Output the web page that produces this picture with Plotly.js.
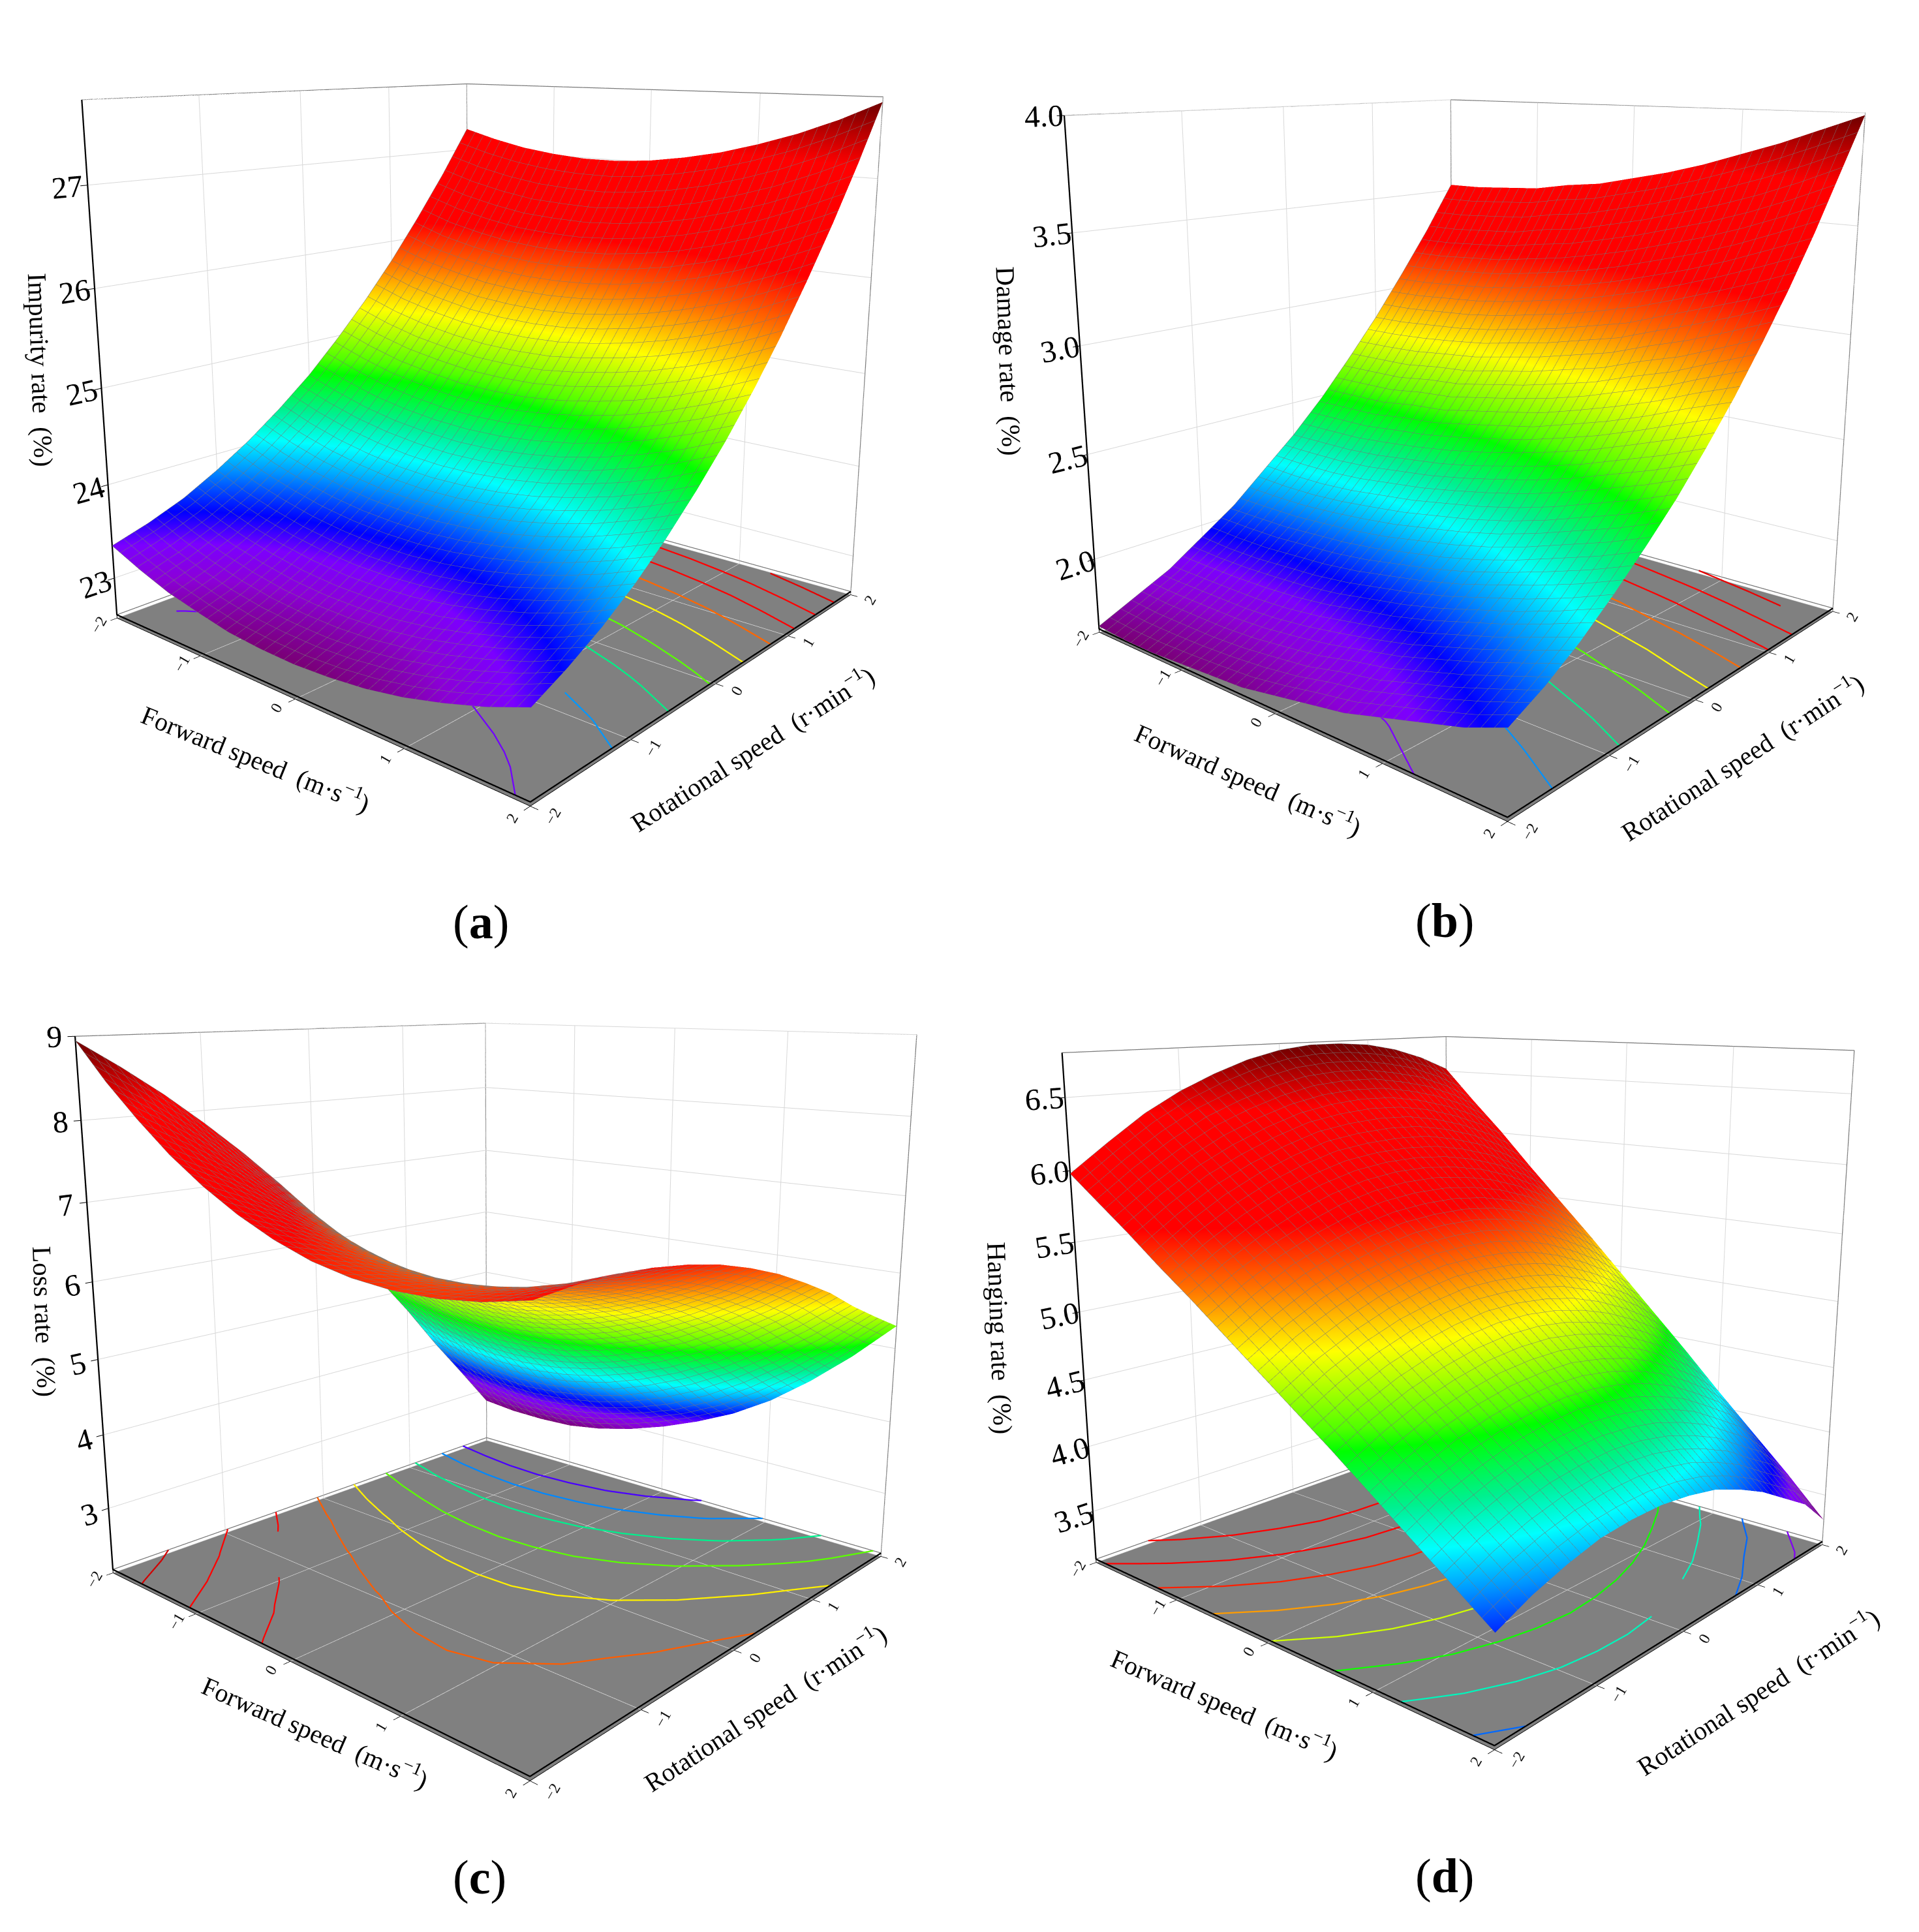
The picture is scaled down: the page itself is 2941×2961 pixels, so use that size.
<!DOCTYPE html>
<html><head><meta charset="utf-8">
<script src="https://cdn.plot.ly/plotly-3.0.1.min.js"></script>
<style>html,body{margin:0;padding:0;background:#fff;width:2941px;height:2961px;overflow:hidden;position:relative}
.p{position:absolute}</style></head><body>
<script>
const forwardSpeed=[-2,-1.667,-1.333,-1,-.667,-.333,0,.333,.667,1,1.333,1.667,2];
const rotationalSpeed=[-2,-1.667,-1.333,-1,-.667,-.333,0,.333,.667,1,1.333,1.667,2];
const impurityRate=[
[23.35,23.21,23.09,23.01,22.94,22.91,22.90,22.92,22.96,23.03,23.13,23.25,23.40],
[23.47,23.33,23.22,23.13,23.07,23.04,23.03,23.05,23.10,23.18,23.28,23.40,23.56],
[23.62,23.49,23.38,23.30,23.24,23.21,23.21,23.23,23.28,23.36,23.46,23.59,23.75],
[23.82,23.68,23.58,23.50,23.45,23.42,23.42,23.45,23.50,23.58,23.69,23.82,23.98],
[24.05,23.92,23.82,23.74,23.69,23.67,23.67,23.70,23.76,23.84,23.95,24.09,24.25],
[24.32,24.19,24.09,24.02,23.97,23.95,23.96,23.99,24.05,24.14,24.25,24.39,24.56],
[24.62,24.50,24.40,24.33,24.29,24.27,24.28,24.32,24.38,24.47,24.59,24.73,24.90],
[24.97,24.85,24.75,24.69,24.64,24.63,24.64,24.68,24.75,24.84,24.96,25.11,25.28],
[25.35,25.23,25.14,25.08,25.04,25.03,25.04,25.09,25.16,25.25,25.37,25.52,25.70],
[25.77,25.65,25.57,25.50,25.47,25.46,25.48,25.53,25.60,25.70,25.82,25.98,26.16],
[26.23,26.11,26.03,25.97,25.94,25.94,25.96,26.01,26.08,26.18,26.31,26.47,26.65],
[26.72,26.61,26.53,26.47,26.45,26.44,26.47,26.52,26.60,26.71,26.84,27.00,27.18],
[27.25,27.15,27.07,27.02,26.99,26.99,27.02,27.08,27.16,27.27,27.40,27.56,27.75]];
const damageRate=[
[1.67,1.66,1.66,1.67,1.68,1.69,1.72,1.75,1.78,1.83,1.88,1.93,2.00],
[1.75,1.74,1.74,1.74,1.75,1.77,1.79,1.83,1.86,1.91,1.96,2.02,2.08],
[1.83,1.83,1.83,1.83,1.84,1.86,1.89,1.92,1.96,2.01,2.06,2.12,2.18],
[1.94,1.93,1.93,1.94,1.95,1.97,2.00,2.03,2.07,2.12,2.17,2.23,2.30],
[2.05,2.05,2.05,2.06,2.07,2.09,2.12,2.15,2.19,2.24,2.30,2.36,2.43],
[2.19,2.18,2.18,2.19,2.21,2.23,2.26,2.29,2.33,2.38,2.44,2.50,2.57],
[2.33,2.33,2.33,2.34,2.36,2.38,2.41,2.45,2.49,2.54,2.60,2.66,2.73],
[2.49,2.49,2.49,2.51,2.52,2.55,2.58,2.61,2.66,2.71,2.77,2.84,2.90],
[2.67,2.67,2.67,2.69,2.70,2.73,2.76,2.80,2.84,2.90,2.95,3.02,3.09],
[2.86,2.86,2.87,2.88,2.90,2.93,2.96,3.00,3.04,3.10,3.16,3.22,3.29],
[3.07,3.07,3.08,3.09,3.11,3.14,3.17,3.21,3.26,3.31,3.37,3.44,3.51],
[3.29,3.29,3.30,3.31,3.34,3.36,3.40,3.44,3.49,3.54,3.60,3.67,3.75],
[3.53,3.53,3.54,3.55,3.58,3.60,3.64,3.68,3.73,3.79,3.85,3.92,3.99]];
const lossRate=[
[8.95,8.49,8.09,7.73,7.43,7.18,6.98,6.83,6.74,6.70,6.71,6.77,6.88],
[8.61,8.18,7.81,7.48,7.21,6.99,6.83,6.71,6.65,6.64,6.68,6.77,6.92],
[8.24,7.84,7.50,7.20,6.96,6.78,6.64,6.56,6.53,6.55,6.62,6.75,6.93],
[7.83,7.46,7.15,6.89,6.68,6.53,6.42,6.37,6.37,6.43,6.53,6.69,6.90],
[7.39,7.05,6.77,6.54,6.37,6.24,6.17,6.15,6.19,6.27,6.41,6.60,6.84],
[6.91,6.61,6.36,6.16,6.02,5.93,5.89,5.90,5.97,6.08,6.25,6.47,6.75],
[6.40,6.13,5.92,5.75,5.64,5.58,5.57,5.61,5.71,5.86,6.06,6.31,6.62],
[5.86,5.62,5.44,5.30,5.22,5.19,5.22,5.29,5.42,5.60,5.84,6.12,6.46],
[5.28,5.08,4.93,4.82,4.78,4.78,4.83,4.94,5.10,5.31,5.58,5.90,6.26],
[4.68,4.50,4.38,4.31,4.29,4.33,4.42,4.56,4.75,4.99,5.29,5.64,6.04],
[4.03,3.89,3.80,3.76,3.78,3.85,3.96,4.14,4.36,4.63,4.96,5.34,5.77],
[3.42,3.32,3.25,3.24,3.29,3.38,3.52,3.70,3.95,4.27,4.63,5.05,5.53],
[2.80,2.75,2.74,2.76,2.84,2.97,3.14,3.35,3.60,3.92,4.32,4.78,5.30]];
const hangingRate=[
[5.98,5.81,5.64,5.46,5.29,5.11,4.93,4.75,4.57,4.38,4.19,4.00,3.81],
[6.17,6.00,5.82,5.64,5.46,5.27,5.09,4.90,4.71,4.51,4.32,4.12,3.92],
[6.35,6.16,5.98,5.79,5.60,5.41,5.21,5.02,4.82,4.62,4.41,4.21,4.00],
[6.49,6.30,6.10,5.91,5.71,5.51,5.31,5.11,4.90,4.69,4.48,4.27,4.06],
[6.60,6.40,6.20,6.00,5.80,5.59,5.38,5.17,4.96,4.74,4.52,4.30,4.08],
[6.69,6.48,6.28,6.07,5.86,5.64,5.43,5.21,4.99,4.76,4.54,4.31,4.08],
[6.75,6.54,6.32,6.10,5.89,5.66,5.44,5.21,4.99,4.76,4.52,4.29,4.05],
[6.78,6.56,6.34,6.11,5.89,5.66,5.43,5.19,4.96,4.72,4.48,4.24,4.00],
[6.78,6.56,6.33,6.10,5.86,5.63,5.39,5.15,4.90,4.66,4.41,4.16,3.91],
[6.76,6.52,6.29,6.05,5.81,5.57,5.32,5.07,4.82,4.57,4.32,4.06,3.80],
[6.71,6.47,6.22,5.98,5.73,5.48,5.22,4.97,4.71,4.45,4.19,3.92,3.66],
[6.63,6.38,6.13,5.87,5.62,5.36,5.10,4.84,4.58,4.31,4.05,3.79,3.52],
[6.52,6.26,6.01,5.74,5.48,5.22,4.95,4.68,4.41,4.13,3.86,3.59,3.30]];
const rainbow=[[0,'#7a0078'],[.05,'#8b00d8'],[.09,'#7b00ff'],[.13,'#0000ff'],[.19,'#0090ff'],[.24,'#00ffff'],[.29,'#00f090'],[.36,'#00ff00'],[.39,'#50ff00'],[.49,'#ffff00'],[.59,'#ff7000'],[.68,'#ff0000'],[.88,'#ff0000'],[.92,'#d00000'],[1,'#700000']];
const SIZE=1750;
const panels=[
 {z:impurityRate,zr:[22.56,27.8],tk:[23,24,25,26,27],fmt:'d',lv:[23.35,23.84,24.33,24.82,25.31,25.8,26.29,26.78,27.27],c:[753,557],eye:[1.603,-1.877,.592],asp:.96,ztitle:'Impurity rate\u00a0\u00a0(%)',zt:[33,300,88],ft:[208,615,22],rt:[610,607,-32.5],cap:'a',cp:[390,748]},
 {z:damageRate,zr:[1.64,4.0],tk:[2,2.5,3,3.5,4],fmt:'.1f',lv:[1.87,2.105,2.34,2.575,2.81,3.045,3.28,3.515,3.75],c:[2257,581],eye:[1.62,-1.865,.592],asp:.96,ztitle:'Damage rate\u00a0\u00a0(%)',zt:[818,293,88],ft:[1013,632,23.5],rt:[1413,614,-33],cap:'b',cp:[1172,747]},
 {z:lossRate,zr:[2.1,9.0],tk:[3,4,5,6,7,8,9],fmt:'d',lv:[3.4,3.9,4.55,5.2,5.85,6.5,7.15,7.8,8.45],c:[770,2011],eye:[1.578,-1.752,.565],asp:.955,ztitle:'Loss rate\u00a0\u00a0(%)',zt:[36,1072,88],ft:[256,1405,23.5],rt:[620,1385,-33],cap:'c',cp:[389,1523]},
 {z:hangingRate,zr:[3.1,6.8],tk:[3.5,4,4.5,5,5.5,6,6.5],fmt:'.1f',lv:[3.57,3.905,4.24,4.575,4.91,5.245,5.58,5.915,6.25],c:[2245,2013],eye:[1.656,-1.87,.599],asp:.96,ztitle:'Hanging rate\u00a0\u00a0(%)',zt:[811,1086,88],ft:[994,1382,23],rt:[1426,1372,-33],cap:'d',cp:[1172,1522]}
];
const K=2941/1557;
const FONT='Liberation Serif';
function contourTrace(Z,levels,floor,zmin,zmax){
 const X=[],Y=[],C=[];
 levels.forEach(level=>{
 for(let j=0;j<Z.length-1;j++)for(let i=0;i<Z[0].length-1;i++){
  const c=[[forwardSpeed[i],rotationalSpeed[j],Z[j][i]],[forwardSpeed[i+1],rotationalSpeed[j],Z[j][i+1]],[forwardSpeed[i+1],rotationalSpeed[j+1],Z[j+1][i+1]],[forwardSpeed[i],rotationalSpeed[j+1],Z[j+1][i]]];
  const pts=[];
  for(let k=0;k<4;k++){const a=c[k],b=c[(k+1)%4];if((a[2]-level)*(b[2]-level)<0){const f=(level-a[2])/(b[2]-a[2]);pts.push([a[0]+(b[0]-a[0])*f,a[1]+(b[1]-a[1])*f]);}}
  for(let k=0;k+1<pts.length;k+=2){X.push(pts[k][0],pts[k+1][0],null);Y.push(pts[k][1],pts[k+1][1],null);C.push(level,level,level);}
 }});
 return {type:'scatter3d',mode:'lines',x:X,y:Y,z:X.map(v=>v===null?null:floor),line:{color:C,colorscale:rainbow,cmin:zmin,cmax:zmax,width:4.5,showscale:false},showlegend:false,hoverinfo:'skip'};
}
const line3=(x,y,z,color,width)=>({type:'scatter3d',mode:'lines',x,y,z,line:{color,width},showlegend:false,hoverinfo:'skip'});
const notes=[];
const note=(t,pos,size)=>({text:t,x:pos[0]*K/2941,y:1-pos[1]*K/2961,xref:'paper',yref:'paper',xanchor:'center',yanchor:'middle',showarrow:false,textangle:pos[2]||0,font:{family:FONT,size:size,color:'#000'}});
panels.forEach((p,i)=>{
 const div=document.createElement('div');div.className='p';
 div.style.left=(p.c[0]-SIZE/2)+'px';div.style.top=(p.c[1]-SIZE/2)+'px';div.style.width=SIZE+'px';div.style.height=SIZE+'px';
 document.body.appendChild(div);
 const axis=(extra)=>Object.assign({showbackground:false,showgrid:true,gridcolor:'#d8d8d8',gridwidth:2,zeroline:false,showline:true,linecolor:'#000',linewidth:2,ticks:'outside',ticklen:10,tickwidth:2,tickcolor:'#000',showspikes:false,title:{text:''},tickangle:-60,tickfont:{family:FONT,size:17,color:'#111'}},extra);
 const [z0,z1]=p.zr, lift=(z1-z0)*.007;
 const zmin=Math.min(...p.z.flat()),zmax=Math.max(...p.z.flat());
 const surf={type:'surface',x:forwardSpeed,y:rotationalSpeed,z:p.z,colorscale:rainbow,cmin:zmin,cmax:zmax,showscale:false,
  lighting:{ambient:1,diffuse:0,specular:0,roughness:1,fresnel:0},hoverinfo:'skip',
  contours:{x:{show:true,start:-2,end:2,size:.1,color:'#777777',width:1},y:{show:true,start:-2,end:2,size:.1,color:'#777777',width:1}}};
 const traces=[surf,
  line3([-2,-2,2,2,null,-2,-2,2,null,-2,-2],[-2,2,2,2,null,-2,2,2,null,2,2],[z1,z1,z1,z0,null,z0+lift,z0+lift,z0+lift,null,z0,z1],'#7a7a7a',2.5),
  line3([-2,-2,2,2],[-2,-2,-2,2],[z1,z0+lift,z0+lift,z0+lift],'#000',4.5),
  contourTrace(p.z,p.lv,z0+lift,zmin,zmax)];
 Plotly.newPlot(div,traces,{width:SIZE,height:SIZE,margin:{l:0,r:0,t:0,b:0},paper_bgcolor:'rgba(0,0,0,0)',showlegend:false,
  scene:{domain:{x:[0,1],y:[0,1]},hovermode:false,dragmode:false,aspectmode:'manual',aspectratio:{x:1,y:1,z:p.asp},camera:{eye:{x:p.eye[0],y:p.eye[1],z:p.eye[2]},center:{x:0,y:0,z:0},up:{x:0,y:0,z:1}},
   xaxis:axis({range:[-2,2],tickvals:[-2,-1,0,1,2]}),yaxis:axis({range:[-2,2],tickvals:[-2,-1,0,1,2]}),
   zaxis:axis({range:p.zr,tickvals:p.tk,tickformat:p.fmt,showbackground:true,backgroundcolor:'#808080',tickangle:'auto',tickfont:{family:FONT,size:24,color:'#000'}})}},{displayModeBar:false});
 notes.push(note(p.ztitle,p.zt,41),note('Forward speed\u00a0\u00a0(m·s<sup>−1</sup>)',p.ft,40),note('Rotational speed\u00a0\u00a0(r·min<sup>−1</sup>)',p.rt,40),note('(<b>'+p.cap+'</b>)',p.cp,74));
});
const overlay=document.createElement('div');overlay.className='p';overlay.style.left='0';overlay.style.top='0';overlay.style.width='2941px';overlay.style.height='2961px';document.body.appendChild(overlay);
Plotly.newPlot(overlay,[],{width:2941,height:2961,margin:{l:0,r:0,t:0,b:0},paper_bgcolor:'rgba(0,0,0,0)',plot_bgcolor:'rgba(0,0,0,0)',xaxis:{visible:false},yaxis:{visible:false},annotations:notes},{displayModeBar:false});
</script></body></html>
